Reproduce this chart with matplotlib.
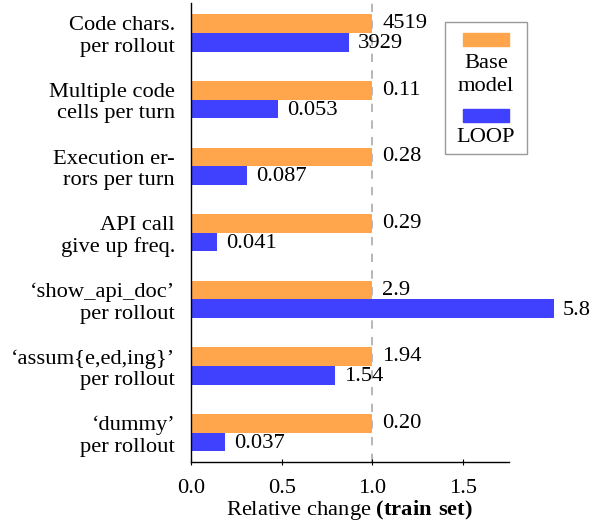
import numpy as np
import matplotlib
matplotlib.use('Agg')
import matplotlib.pyplot as plt
from matplotlib.patches import Rectangle

plt.rcParams['font.family'] = ['Liberation Serif', 'DejaVu Serif']
plt.rcParams['mathtext.fontset'] = 'custom'
plt.rcParams['mathtext.rm'] = 'Liberation Serif'
plt.rcParams['mathtext.bf'] = 'Liberation Serif:bold'

categories = ['Code chars.\nper rollout',
              'Multiple code\ncells per turn',
              'Execution er-\nrors per turn',
              'API call\ngive up freq.',
              '‘show_api_doc’\nper rollout',
              '‘assum{e,ed,ing}’\nper rollout',
              '‘dummy’\nper rollout']
base_labels = ['4519', '0.11', '0.28', '0.29', '2.9', '1.94', '0.20']
loop_labels = ['3929', '0.053', '0.087', '0.041', '5.8', '1.54', '0.037']
xticks = [0.0, 0.5, 1.0, 1.5]

base_raw = np.array([float(v) for v in base_labels])
loop_raw = np.array([float(v) for v in loop_labels])
base_rel = base_raw / base_raw   # base model normalised to 1
loop_rel = loop_raw / base_raw

ORANGE = '#FFA54C'
BLUE = '#4040FF'
FS = 16.2

W, H = 591, 527
fig = plt.figure(figsize=(W / 100, H / 100), dpi=100)
ax = fig.add_axes([191 / W, 1 - 462 / H, (508.5 - 191) / W, (462 - 3) / H])

y = np.arange(len(categories))
bh = 0.28
ax.barh(y - bh / 2, base_rel, height=bh, color=ORANGE, zorder=2)
ax.barh(y + bh / 2, loop_rel, height=bh, color=BLUE, zorder=2, clip_on=False)

for i in range(len(categories)):
    ax.text(base_rel[i] + 0.055, y[i] - bh / 2, base_labels[i], fontsize=FS,
            ha='left', va='center', zorder=3)
    ax.text(loop_rel[i] + 0.05, y[i] + bh / 2 + 0.02, loop_labels[i], fontsize=FS,
            ha='left', va='center', zorder=3, clip_on=False)

ax.axvline(1.0, color='#aaaaaa', linestyle=(0, (5, 5)), linewidth=1.2, zorder=1)

ax.set_xlim(0, 1.75)
ax.set_ylim(6.44, -0.45)
ax.set_yticks(y)
ax.set_yticklabels(categories, fontsize=FS, ha='right', multialignment='right',
                   linespacing=1.17)
ax.tick_params(axis='y', length=0, pad=11.5)
ax.set_xticks(xticks)
ax.set_xticklabels([f'{t:.1f}' for t in xticks], fontsize=FS)
ax.tick_params(axis='x', direction='inout', length=5, width=0.8, pad=10)
ax.set_xlabel(r'Relative change $\mathbf{(train\ set)}$', fontsize=FS, labelpad=0)

for s in ['top', 'right']:
    ax.spines[s].set_visible(False)
ax.spines['left'].set_linewidth(1.0)
ax.spines['bottom'].set_linewidth(1.0)

# stacked legend box
def fx(px):
    return px / W

def fy(py):
    return 1 - py / H

fig.add_artist(Rectangle((fx(445), fy(154)), fx(527) - fx(445), fy(22) - fy(154),
                         transform=fig.transFigure, facecolor='white',
                         edgecolor='#999999', linewidth=1.0))
fig.add_artist(Rectangle((fx(463), fy(46)), fx(509) - fx(463), fy(33) - fy(46),
                         transform=fig.transFigure, color=ORANGE))
fig.add_artist(Rectangle((fx(463), fy(122)), fx(509) - fx(463), fy(109) - fy(122),
                         transform=fig.transFigure, color=BLUE))
fig.text(fx(486), fy(75), 'Base\nmodel', fontsize=FS, ha='center', va='center',
         linespacing=1.35)
fig.text(fx(486), fy(138), 'LOOP', fontsize=FS, ha='center', va='center')

fig.savefig('out.png', dpi=100)
